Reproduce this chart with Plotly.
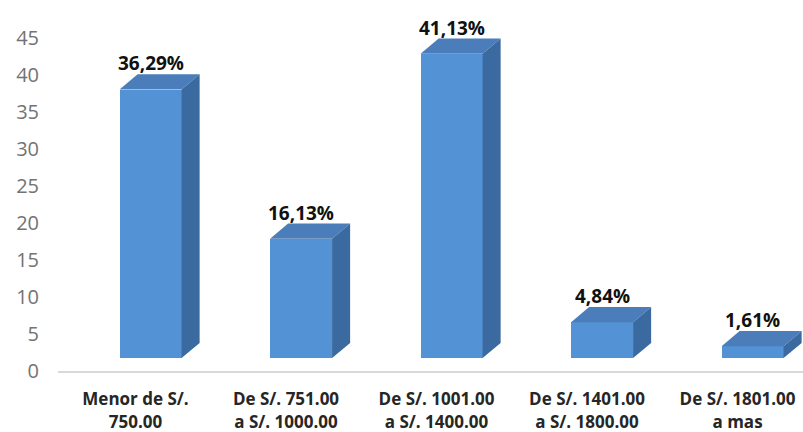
import plotly.graph_objects as go

# Income brackets and share of respondents (%)
categories = [
    "Menor de S/.<br>750.00",
    "De S/. 751.00<br>a S/. 1000.00",
    "De S/. 1001.00<br>a S/. 1400.00",
    "De S/. 1401.00<br>a S/. 1800.00",
    "De S/. 1801.00<br>a mas",
]
percentages = [36.29, 16.13, 41.13, 4.84, 1.61]
value_labels = ["36,29%", "16,13%", "41,13%", "4,84%", "1,61%"]
y_ticks = [0, 5, 10, 15, 20, 25, 30, 35, 40, 45]

# Pseudo-3D geometry, in axis units
HALF_W = 0.206      # half width of the bar front face
DEPTH_X = 0.12      # horizontal depth offset of the back face
DEPTH_Y = 2.05      # vertical depth offset of the back face
FLOOR = 1.75        # front faces sit forward of the back wall

FRONT = "#5393d5"
TOP = "#4a7db9"
SIDE = "#3b6aa0"

fig = go.Figure()

xs = list(range(len(percentages)))

# Front faces
fig.add_trace(go.Bar(
    x=xs, y=percentages, base=[FLOOR] * len(percentages),
    width=2 * HALF_W,
    marker=dict(color=FRONT, line=dict(width=0)),
    hoverinfo="skip", showlegend=False,
))

# Top and side faces
for i, v in zip(xs, percentages):
    top = FLOOR + v
    fig.add_trace(go.Scatter(
        x=[i - HALF_W, i + HALF_W, i + HALF_W + DEPTH_X, i - HALF_W + DEPTH_X, i - HALF_W],
        y=[top, top, top + DEPTH_Y, top + DEPTH_Y, top],
        fill="toself", fillcolor=TOP, mode="lines", line=dict(width=0),
        hoverinfo="skip", showlegend=False,
    ))
    fig.add_trace(go.Scatter(
        x=[i + HALF_W, i + HALF_W + DEPTH_X, i + HALF_W + DEPTH_X, i + HALF_W, i + HALF_W],
        y=[FLOOR, FLOOR + DEPTH_Y, top + DEPTH_Y, top, FLOOR],
        fill="toself", fillcolor=SIDE, mode="lines", line=dict(width=0),
        hoverinfo="skip", showlegend=False,
    ))

# Value labels above each bar
for i, v, lab in zip(xs, percentages, value_labels):
    fig.add_annotation(
        x=i, y=FLOOR + v + DEPTH_Y, text=f"<b>{lab}</b>",
        showarrow=False, yanchor="bottom", xanchor="center", yshift=-4,
        font=dict(family="Open Sans", size=19, color="#111111"),
    )

fig.update_layout(
    width=803, height=432,
    margin=dict(l=58, r=0, t=38, b=61),
    paper_bgcolor="white", plot_bgcolor="white",
    bargap=0,
    xaxis=dict(
        range=[-0.615, 4.335],
        tickvals=[i - 0.1 for i in xs],
        ticktext=[f"<b>{c}</b>" for c in categories],
        tickfont=dict(family="Open Sans", size=17, color="#262626"),
        showgrid=False, zeroline=False,
        showline=True, linecolor="#d9d9d9", linewidth=2,
        ticks="", ticklabelstandoff=12,
        fixedrange=True,
    ),
    yaxis=dict(
        range=[0, 45],
        tickvals=y_ticks,
        tickfont=dict(family="Open Sans", size=20, color="#737373"),
        showgrid=False, zeroline=False, showline=False,
        ticks="", ticklabelstandoff=18,
        fixedrange=True,
    ),
)

fig.write_html("out.html")
